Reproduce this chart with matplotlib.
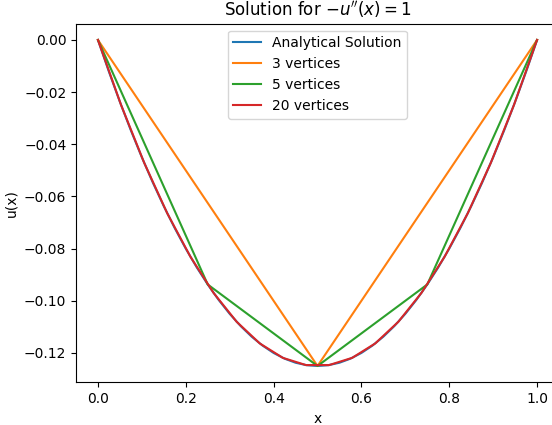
import matplotlib
matplotlib.use("Agg")
import matplotlib.pyplot as plt

# Analytical solution u(x) = x(x-1)/2, values read at x = 0, 0.025, ..., 1
x_exact = [0.0, 0.025, 0.05, 0.075, 0.1, 0.125, 0.15, 0.175, 0.2, 0.225, 0.25,
           0.275, 0.3, 0.325, 0.35, 0.375, 0.4, 0.425, 0.45, 0.475, 0.5,
           0.525, 0.55, 0.575, 0.6, 0.625, 0.65, 0.675, 0.7, 0.725, 0.75,
           0.775, 0.8, 0.825, 0.85, 0.875, 0.9, 0.925, 0.95, 0.975, 1.0]
u_exact = [0.0, -0.01219, -0.02375, -0.03469, -0.045, -0.05469, -0.06375, -0.07219,
           -0.08, -0.08719, -0.09375, -0.09969, -0.105, -0.10969, -0.11375, -0.11719,
           -0.12, -0.12219, -0.12375, -0.12469, -0.125,
           -0.12469, -0.12375, -0.12219, -0.12, -0.11719, -0.11375, -0.10969, -0.105,
           -0.09969, -0.09375, -0.08719, -0.08, -0.07219, -0.06375, -0.05469, -0.045,
           -0.03469, -0.02375, -0.01219, 0.0]

# FEM solutions (nodal values)
x_3 = [0.0, 0.5, 1.0]
u_3 = [0.0, -0.125, 0.0]

x_5 = [0.0, 0.25, 0.5, 0.75, 1.0]
u_5 = [0.0, -0.09375, -0.125, -0.09375, 0.0]

x_20 = [0.0, 0.05263, 0.10526, 0.15789, 0.21053, 0.26316, 0.31579, 0.36842,
        0.42105, 0.47368, 0.52632, 0.57895, 0.63158, 0.68421, 0.73684, 0.78947,
        0.84211, 0.89474, 0.94737, 1.0]
u_20 = [0.0, -0.02493, -0.04709, -0.06648, -0.08310, -0.09695, -0.10803, -0.11634,
        -0.12188, -0.12465, -0.12465, -0.12188, -0.11634, -0.10803, -0.09695, -0.08310,
        -0.06648, -0.04709, -0.02493, 0.0]

fig = plt.figure(figsize=(5.52, 4.25), dpi=100)
ax = fig.add_axes([0.1377, 0.1005, 0.875, 0.8438])

ax.plot(x_exact, u_exact, label="Analytical Solution")
ax.plot(x_3, u_3, label="3 vertices")
ax.plot(x_5, u_5, label="5 vertices")
ax.plot(x_20, u_20, label="20 vertices")

ax.set_title(r"Solution for $-u''(x) = 1$")
ax.set_xlabel("x")
ax.set_ylabel("u(x)")
ax.legend(loc="upper center")

fig.savefig("out.png", dpi=100)
